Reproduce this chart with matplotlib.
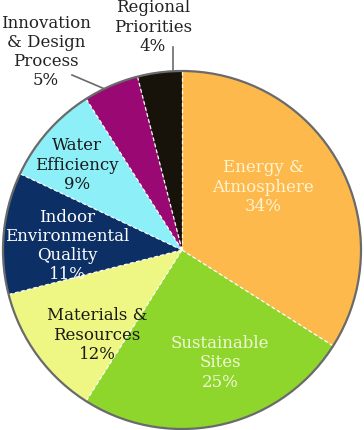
import numpy as np
import matplotlib.pyplot as plt
from matplotlib.patches import Circle

# LEED credit categories, share of points
labels = ["Energy &\nAtmosphere", "Sustainable\nSites", "Materials &\nResources",
          "Indoor\nEnvironmental\nQuality", "Water\nEfficiency",
          "Innovation\n& Design\nProcess", "Regional\nPriorities"]
shares = [34, 25, 12, 11, 9, 5, 4]
colors = ["#FDB94B", "#8FD62C", "#EEF784", "#0C2F66", "#8DEFF7", "#990873", "#17120A"]
text_colors = ["#FFF3D2", "#EEF8D6", "#1A1A12", "#FFFFFF", "#1A1A1A", "#222222", "#222222"]

W, H = 364, 431
fig = plt.figure(figsize=(W / 100, H / 100), dpi=100)
ax = fig.add_axes([0, 0, 1, 1])

cx, cy, r = 182, 180, 179
wedges, _ = ax.pie(shares, colors=colors, startangle=90, counterclock=False,
                   center=(cx, cy), radius=r, frame=True,
                   wedgeprops=dict(linewidth=0))
ax.set_xlim(0, W)
ax.set_ylim(0, H)
ax.set_aspect("equal")
ax.axis("off")

# white dashed separators
for w in wedges:
    a = np.deg2rad(w.theta1)
    ax.plot([cx, cx + r * np.cos(a)], [cy, cy + r * np.sin(a)],
            color="white", lw=0.9, ls=(0, (3, 2)), zorder=3)
ax.add_patch(Circle((cx, cy), r, fill=False, edgecolor="#6a6a6a", lw=1.6, zorder=4))

font = dict(family="DejaVu Serif", fontsize=12, ha="center", va="center", linespacing=1.17)

# label centres in pixels (y up)
label_pos = [(263, 244), (220, 68), (97, 96), (67, 185), (77, 266), (46, 379), (153, 404)]
for i, (tx, ty) in enumerate(label_pos):
    ax.text(tx, ty, f"{labels[i]}\n{shares[i]}%", color=text_colors[i], zorder=5, **font)

# leader lines for the two small slices
leaders = {5: ((72, 355), 0.63), 6: ((173, 383), 0.2)}
for i, (p0, t) in leaders.items():
    w = wedges[i]
    a = np.deg2rad(w.theta1 + t * (w.theta2 - w.theta1))
    ex, ey = cx + r * np.cos(a), cy + r * np.sin(a)
    ax.plot([p0[0], ex], [p0[1], ey], color="#6a6a6a", lw=1.2, zorder=3)

fig.savefig("out.png", dpi=100, facecolor="white")
